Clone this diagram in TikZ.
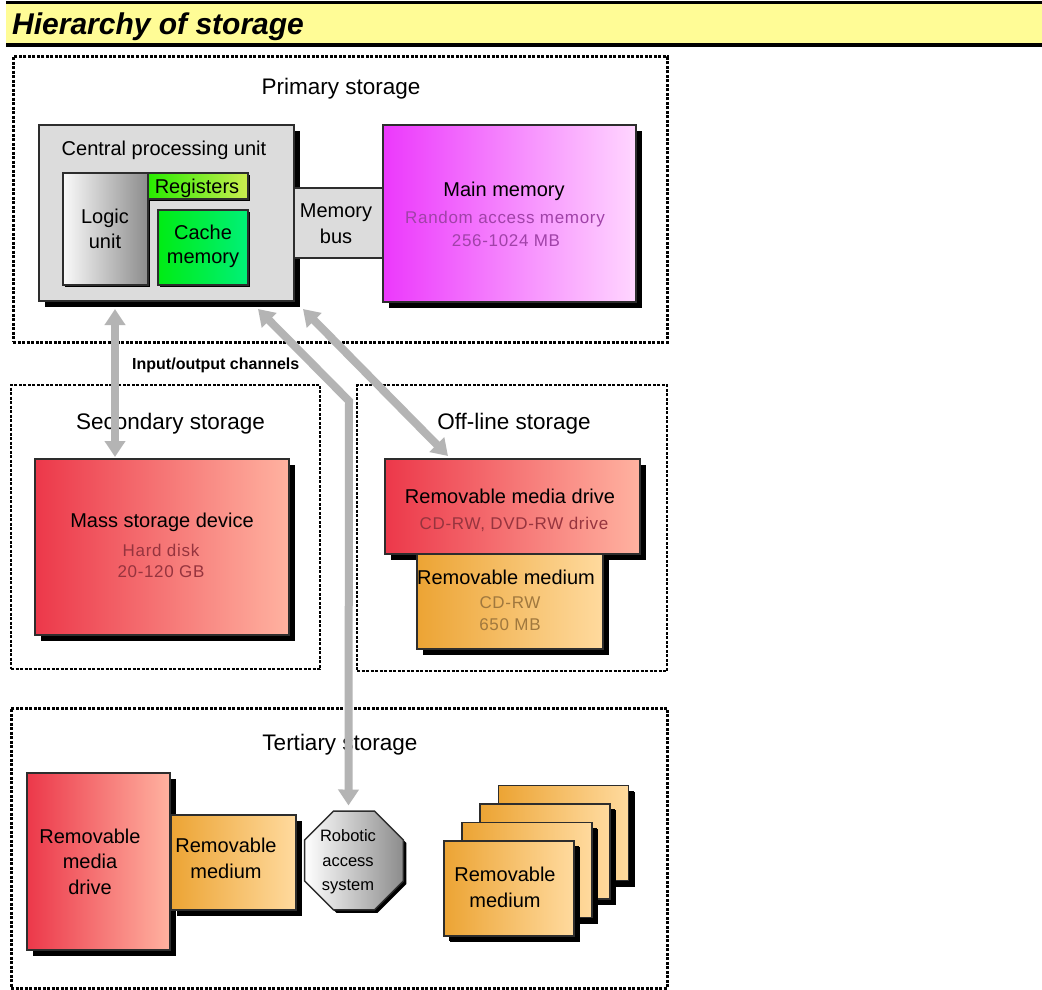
\documentclass[tikz,border=0pt]{standalone}
\usepackage{fontspec}
\setmainfont{Liberation Sans}
\newfontfamily\spacedfont[LetterSpace=4]{Liberation Sans}
\usetikzlibrary{arrows.meta,shapes.geometric,shadows}
\newcommand\fsz[1]{\fontsize{#1}{#1}\selectfont}

\definecolor{titlebg}{RGB}{255,252,150}
\definecolor{boxedge}{RGB}{45,45,45}
\definecolor{cpugray}{RGB}{220,220,220}
\definecolor{magL}{RGB}{236,56,252}
\definecolor{magR}{RGB}{255,214,255}
\definecolor{redL}{RGB}{236,56,74}
\definecolor{redR}{RGB}{255,178,160}
\definecolor{orgL}{RGB}{236,164,52}
\definecolor{orgR}{RGB}{255,218,158}
\definecolor{regL}{RGB}{40,236,0}
\definecolor{regR}{RGB}{204,236,80}
\definecolor{cacheL}{RGB}{0,236,20}
\definecolor{cacheR}{RGB}{0,240,120}
\definecolor{greyL}{RGB}{250,250,250}
\definecolor{greyR}{RGB}{140,140,140}
\definecolor{arrowgray}{RGB}{180,180,180}
\definecolor{ramtext}{RGB}{160,66,168}
\definecolor{redtext}{RGB}{150,52,62}
\definecolor{orgtext}{RGB}{160,120,62}

\begin{document}
\begin{tikzpicture}[x=1pt,y=-1pt,
  frame/.style={draw=black, line width=#1, dash pattern=on 3pt off 1.5pt, inner sep=0pt},
  frame/.default=3pt,
  unit/.style={draw=boxedge, line width=1.5pt, inner sep=0pt, outer sep=0pt},
  shadowed/.style={drop shadow={shadow xshift=#1, shadow yshift=-#1, fill=black, opacity=1}},
  shadowed/.default=6pt,
  redbox/.style={unit, shadowed, left color=redL, right color=redR},
  orgbox/.style={unit, shadowed, left color=orgL, right color=orgR},
  heading/.style={inner sep=0pt, anchor=base, font=\fsz{22.5}},
  txt/.style={inner sep=0pt, anchor=base, font=\fsz{20}},
  subtxt/.style={inner sep=0pt, anchor=base, font=\spacedfont\fsz{17}, text=#1},
  robottxt/.style={inner sep=0pt, anchor=base, font=\fsz{16.5}},
  ioarrow/.style={draw=arrowgray, line width=8pt,
    arrows={Triangle[length=16pt,width=20pt]-Triangle[length=16pt,width=20pt]}}
]
\path[use as bounding box, fill=white] (0,0) rectangle (1042,990);

% title bar
\fill[titlebg] (6,4) rectangle (1042,43);
\fill[black] (6,1) rectangle (1042,4);
\fill[black] (6,43) rectangle (1042,47);
\node[inner sep=0pt, anchor=base west, font=\fsz{30}\bfseries\itshape] (title) at (12,34.5) {Hierarchy of storage};

% storage level frames
\node[frame, minimum width=654pt, minimum height=285pt] (primary) at (340,199.5) {};
\node[frame=2.5pt, minimum width=309pt, minimum height=284pt] (secondary) at (165.5,527) {};
\node[frame=2.5pt, minimum width=310pt, minimum height=286pt] (offline) at (512,528) {};
\node[frame, minimum width=656pt, minimum height=280pt] (tertiary) at (339,848) {};

\node[heading] (hprim) at (341,95) {Primary storage};
\node[heading] (hsec) at (170.5,429) {Secondary storage};
\node[heading] (hoff) at (514,429) {Off-line storage};
\node[heading] (hter) at (340,750) {Tertiary storage};

% primary storage
\node[unit, shadowed, fill=cpugray, minimum width=255pt, minimum height=176pt] (cpu) at (166.5,213) {};
\node[unit, shadowed=2pt, left color=greyL, right color=greyR, minimum width=85pt, minimum height=112pt] (logic) at (105.5,229) {};
\node[unit, shadowed=2pt, left color=regL, right color=regR, minimum width=100pt, minimum height=26pt] (regs) at (198,186) {};
\node[unit, shadowed=2pt, left color=cacheL, right color=cacheR, minimum width=90pt, minimum height=75pt] (cache) at (203,247.5) {};
\node[unit, fill=cpugray, minimum width=89pt, minimum height=70pt] (bus) at (338.5,223) {};
\node[unit, shadowed, left color=magL, right color=magR, minimum width=253pt, minimum height=177pt] (mainmem) at (509.5,213.5) {};

\node[txt] (tcpu) at (164,155) {Central processing unit};
\node[txt] (treg) at (197,193) {Registers};
\node[txt] (tlog1) at (105,223) {Logic};
\node[txt] (tlog2) at (105,248) {unit};
\node[txt] (tcac1) at (203,239) {Cache};
\node[txt] (tcac2) at (203,263) {memory};
\node[txt] (tbus1) at (336,217) {Memory};
\node[txt] (tbus2) at (336,243) {bus};
\node[txt] (tmm) at (504,196) {Main memory};
\node[subtxt=ramtext] (tram) at (505,223) {Random access memory};
\node[subtxt=ramtext] (tramsz) at (506,246) {256-1024 MB};

% secondary storage
\node[redbox, minimum width=254pt, minimum height=176pt] (mass) at (162,547) {};
\node[txt] (tmass) at (162,527) {Mass storage device};
\node[subtxt=redtext] (thd) at (161,556) {Hard disk};
\node[subtxt=redtext] (thdsz) at (161,577.5) {20-120 GB};

% off-line storage
\node[redbox, minimum width=255pt, minimum height=95pt] (rdrive) at (512.5,506.5) {};
\node[orgbox, minimum width=186pt, minimum height=95pt] (rmedium) at (510,601.5) {};
\node[txt] (tdrv) at (510,503) {Removable media drive};
\node[subtxt=redtext] (tdrvk) at (514,529.5) {CD-RW, DVD-RW drive};
\node[txt] (tmed) at (506,584) {Removable medium};
\node[subtxt=orgtext] (tmedk) at (510,608) {CD-RW};
\node[subtxt=orgtext] (tmedsz) at (510,630) {650 MB};

% tertiary storage
\node[redbox, minimum width=143pt, minimum height=177pt] (tdrive) at (98.5,861.5) {};
\node[orgbox, minimum width=125pt, minimum height=95pt] (tmedium) at (233.5,862.5) {};
\node[unit, shadowed=3pt, regular polygon, regular polygon sides=8, minimum size=107pt,
      left color=white, right color=greyR] (robot) at (354,860.5) {};
\node[orgbox, shadowed=5pt, minimum width=130pt, minimum height=95pt] (card4) at (563.5,833) {};
\node[orgbox, shadowed=5pt, minimum width=130pt, minimum height=95pt] (card3) at (545,851.5) {};
\node[orgbox, shadowed=5pt, minimum width=130pt, minimum height=95pt] (card2) at (527,870) {};
\node[orgbox, shadowed=5pt, minimum width=130pt, minimum height=95pt] (card1) at (509,888.5) {};

\node[txt] (ttd1) at (90,843.5) {Removable};
\node[txt] (ttd2) at (90,868.5) {media};
\node[txt] (ttd3) at (90,894) {drive};
\node[txt] (ttm1) at (226,852) {Removable};
\node[txt] (ttm2) at (226,878) {medium};
\node[robottxt] (trb1) at (348,841.5) {Robotic};
\node[robottxt] (trb2) at (348,866) {access};
\node[robottxt] (trb3) at (348,890.5) {system};
\node[txt] (tcd1) at (505,881) {Removable};
\node[txt] (tcd2) at (505,907) {medium};

% input/output channels
\node[inner sep=0pt, anchor=base west, font=\fsz{16}\bfseries] (iolabel) at (132,369.5) {Input/output channels};
\coordinate (iobend) at (349,401);
\draw[ioarrow] ([shift={(76,8)}]cpu.south west) -- ([shift={(-47,-2)}]mass.north);
\draw[ioarrow] ([shift={(-36,8)}]cpu.south east) -- (iobend) -- ([shift={(-5.5,-55)}]robot.center);
\draw[ioarrow] ([shift={(9,8)}]cpu.south east) -- ([shift={(-64.5,-3)}]rdrive.north);
\end{tikzpicture}
\end{document}
